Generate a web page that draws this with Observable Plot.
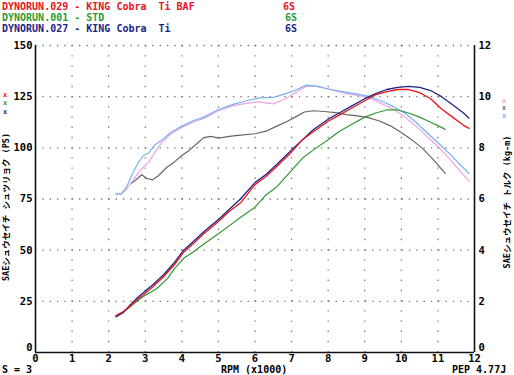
<!DOCTYPE html>
<html><head><meta charset="utf-8">
<script src="https://cdn.jsdelivr.net/npm/d3@7"></script>
<script src="https://cdn.jsdelivr.net/npm/@observablehq/plot@0.6"></script>
<style>
body{margin:0;background:#fff;}
#wrap{position:relative;width:514px;height:375px;overflow:hidden;font-family:"DejaVu Sans Mono",monospace;font-weight:bold;font-size:10px;}
#wrap svg{position:absolute;left:0;top:0;}
.t{position:absolute;white-space:pre;line-height:10px;}
.v{position:absolute;white-space:pre;line-height:10px;transform:translate(-50%,-50%) rotate(-90deg);font-family:"DejaVu Sans Mono","Noto Sans CJK JP",monospace;font-size:8.5px;}
</style></head><body><div id="wrap"></div>
<script>
// ---- data ----
const xTicks = [0,1,2,3,4,5,6,7,8,9,10,11,12];
const psTicks = [0,25,50,75,100,125,150];
const kgmTicks = [0,2,4,6,8,10,12];

// Power (PS) — DYNORUN.029 KING Cobra Ti BAF (red)
const rpm029P = [2.2,2.4,2.6,2.8,3.0,3.2,3.5,3.8,4.05,4.3,4.6,5.0,5.3,5.6,6.0,6.3,6.6,7.0,7.3,7.6,8.0,8.3,8.6,9.0,9.3,9.6,9.9,10.2,10.5,10.8,11.1,11.4,11.7,11.85];
const ps029 = [18,20,23,26,29,32,37,43,49,53,58,64,69,73,82,86,91,98,104,108,113,116,119,123,126,127.5,128.5,128.5,127,124,119,115,111,109.5];
// Power (PS) — DYNORUN.027 KING Cobra Ti (blue)
const rpm027P = [2.2,2.4,2.6,2.8,3.0,3.2,3.5,3.8,4.05,4.3,4.6,5.0,5.3,5.6,6.0,6.3,6.6,7.0,7.3,7.6,8.0,8.3,8.6,9.0,9.3,9.6,9.9,10.2,10.5,10.8,11.1,11.4,11.7,11.85];
const ps027 = [17.5,19.5,23.5,27,30,33,38,44,50,54,59,65,70,75,83,87,92,99,104,109,114,117,120,124,126.5,128.5,129.5,130,129.5,128,125,121,117,114.5];
// Power (PS) — DYNORUN.001 STD (green)
const rpm001P = [2.2,2.5,2.8,3.0,3.3,3.6,3.8,4.05,4.3,4.6,5.0,5.3,5.6,6.0,6.3,6.6,7.0,7.3,7.6,8.0,8.3,8.6,9.0,9.3,9.6,9.9,10.2,10.5,10.8,11.1,11.2];
const ps001 = [17.5,21,25.5,28,31,36,41,46,49,53,58,62,66,71,77,81,89,95,99,104,108,111,115,117,118.5,118.5,117,115,112.5,110,109];

// Torque (kg-m) — 027 (light blue)
const rpm027T = [2.2,2.35,2.5,2.65,2.8,2.95,3.1,3.25,3.45,3.7,4.0,4.3,4.6,5.0,5.4,5.8,6.1,6.5,6.8,7.1,7.4,7.7,8.0,8.4,8.8,9.1,9.5,9.8,10.1,10.4,10.7,11.0,11.3,11.6,11.85];
const kgm027 = [6.2,6.2,6.5,7.0,7.4,7.7,7.8,8.1,8.3,8.6,8.85,9.05,9.2,9.5,9.7,9.85,9.95,9.97,10.1,10.25,10.45,10.4,10.3,10.2,10.1,10.02,9.8,9.6,9.35,9.0,8.6,8.2,7.8,7.35,7.0];
// Torque (kg-m) — 029 (pink)
const rpm029T = [2.2,2.35,2.5,2.65,2.8,2.95,3.1,3.25,3.45,3.7,4.0,4.3,4.6,5.0,5.4,5.8,6.1,6.5,6.8,7.1,7.4,7.7,8.0,8.4,8.8,9.1,9.5,9.8,10.1,10.4,10.7,11.0,11.3,11.6,11.85];
const kgm029 = [6.2,6.2,6.4,6.7,7.0,7.25,7.45,7.8,8.2,8.55,8.8,9.0,9.15,9.45,9.65,9.75,9.8,9.72,9.9,10.15,10.4,10.4,10.3,10.15,10.05,9.98,9.7,9.5,9.2,8.85,8.45,8.05,7.6,7.1,6.7];
// Torque (kg-m) — 001 STD (grey)
const rpm001T = [2.6,2.75,2.9,3.05,3.2,3.35,3.6,3.8,4.0,4.2,4.4,4.6,4.8,5.0,5.3,5.6,6.0,6.3,6.6,6.9,7.1,7.35,7.6,7.9,8.2,8.5,8.8,9.1,9.4,9.7,10.0,10.3,10.6,10.9,11.2];
const kgm001 = [6.6,6.75,6.95,6.8,6.75,6.9,7.25,7.45,7.7,7.9,8.15,8.4,8.45,8.38,8.45,8.5,8.55,8.65,8.85,9.05,9.2,9.4,9.45,9.42,9.38,9.3,9.25,9.18,9.05,8.86,8.6,8.3,7.95,7.5,7.0];

const kgmToPs = 150 / 12;
const toRows = (xs, ys, k = 1) => xs.map((x, i) => ({rpm: x, v: ys[i] * k}));

const mono = '"DejaVu Sans Mono", monospace';
const chart = Plot.plot({
  width: 514, height: 375,
  marginLeft: 35, marginRight: 40, marginTop: 45, marginBottom: 23,
  x: {domain: [0, 12], label: null},
  y: {domain: [0, 150], label: null},
  style: {fontFamily: mono, fontSize: "10.5px", fontWeight: "bold", background: "#fff", color: "#000"},
  marks: [
    Plot.ruleY(psTicks.slice(1), {stroke: "#7a7a7a", strokeWidth: 1.3, strokeDasharray: "1.4,5.93"}),
    Plot.ruleX(xTicks.slice(1, -1), {stroke: "#7a7a7a", strokeWidth: 1.3, strokeDasharray: "1.4,8.8"}),
    Plot.ruleX([0, 12], {stroke: "#111", strokeWidth: 1.6}),
    Plot.ruleY([0], {stroke: "#111", strokeWidth: 1.6}),
    Plot.line(toRows(rpm001T, kgm001, kgmToPs), {x: "rpm", y: "v", stroke: "#6e6262", strokeWidth: 1.2}),
    Plot.line(toRows(rpm029T, kgm029, kgmToPs), {x: "rpm", y: "v", stroke: "#f0a2e6", strokeWidth: 1.2}),
    Plot.line(toRows(rpm027T, kgm027, kgmToPs), {x: "rpm", y: "v", stroke: "#78b2ee", strokeWidth: 1.2}),
    Plot.line(toRows(rpm001P, ps001), {x: "rpm", y: "v", stroke: "#2f9a32", strokeWidth: 1.2}),
    Plot.line(toRows(rpm027P, ps027), {x: "rpm", y: "v", stroke: "#1c2585", strokeWidth: 1.3}),
    Plot.line(toRows(rpm029P, ps029), {x: "rpm", y: "v", stroke: "#e8141e", strokeWidth: 1.3}),
    Plot.axisX(xTicks, {tickSize: 0, tickPadding: 2, label: null}),
    Plot.axisY(psTicks.slice(1), {tickSize: 0, tickPadding: 3, label: null}),
    Plot.text(psTicks.slice(0, 1), {x: 0, y: d => d, text: d => String(d), textAnchor: "end", dx: -3, dy: -5}),
    Plot.text(kgmTicks.slice(1), {x: 12, y: d => d * kgmToPs, text: d => String(d), textAnchor: "start", dx: 4}),
    Plot.text(kgmTicks.slice(0, 1), {x: 12, y: d => d * kgmToPs, text: d => String(d), textAnchor: "start", dx: 4, dy: -5})
  ]
});
const wrap = document.getElementById("wrap");
wrap.appendChild(chart);

function addText(txt, left, top, color, cls = "t", extra = {}) {
  const d = document.createElement("div");
  d.className = cls; d.textContent = txt;
  d.style.left = left + "px"; d.style.top = top + "px"; d.style.color = color;
  Object.assign(d.style, extra);
  wrap.appendChild(d);
}
addText("DYNORUN.029 - KING Cobra  Ti BAF", 2, 2, "#e8141e");
addText("6S", 283, 2, "#e8141e");
addText("DYNORUN.001 - STD", 2, 13, "#2f9a32");
addText("6S", 285, 13, "#2f9a32");
addText("DYNORUN.027 - KING Cobra  Ti", 2, 24, "#1c2585");
addText("6S", 285, 24, "#1c2585");
addText("x", 3, 90, "#e8141e", "t", {fontSize: "7px"});
addText("x", 3, 98, "#2f9a32", "t", {fontSize: "7px"});
addText("x", 3, 107, "#1c2585", "t", {fontSize: "7px"});
addText("x", 502, 96, "#f0a2e6", "t", {fontSize: "7px"});
addText("x", 502, 103, "#6e6262", "t", {fontSize: "7px"});
addText("x", 502, 111, "#78b2ee", "t", {fontSize: "7px"});
addText("SAEシュウセイチ シュツリョク (PS)", 6, 207, "#000", "v");
addText("SAEシュウセイチ トルク (kg-m)", 507, 202, "#000", "v");
addText("S = 3", 2, 365, "#000");
addText("RPM (x1000)", 221, 365, "#000");
addText("PEP 4.77J", 452, 365, "#000");
</script>
</body></html>
